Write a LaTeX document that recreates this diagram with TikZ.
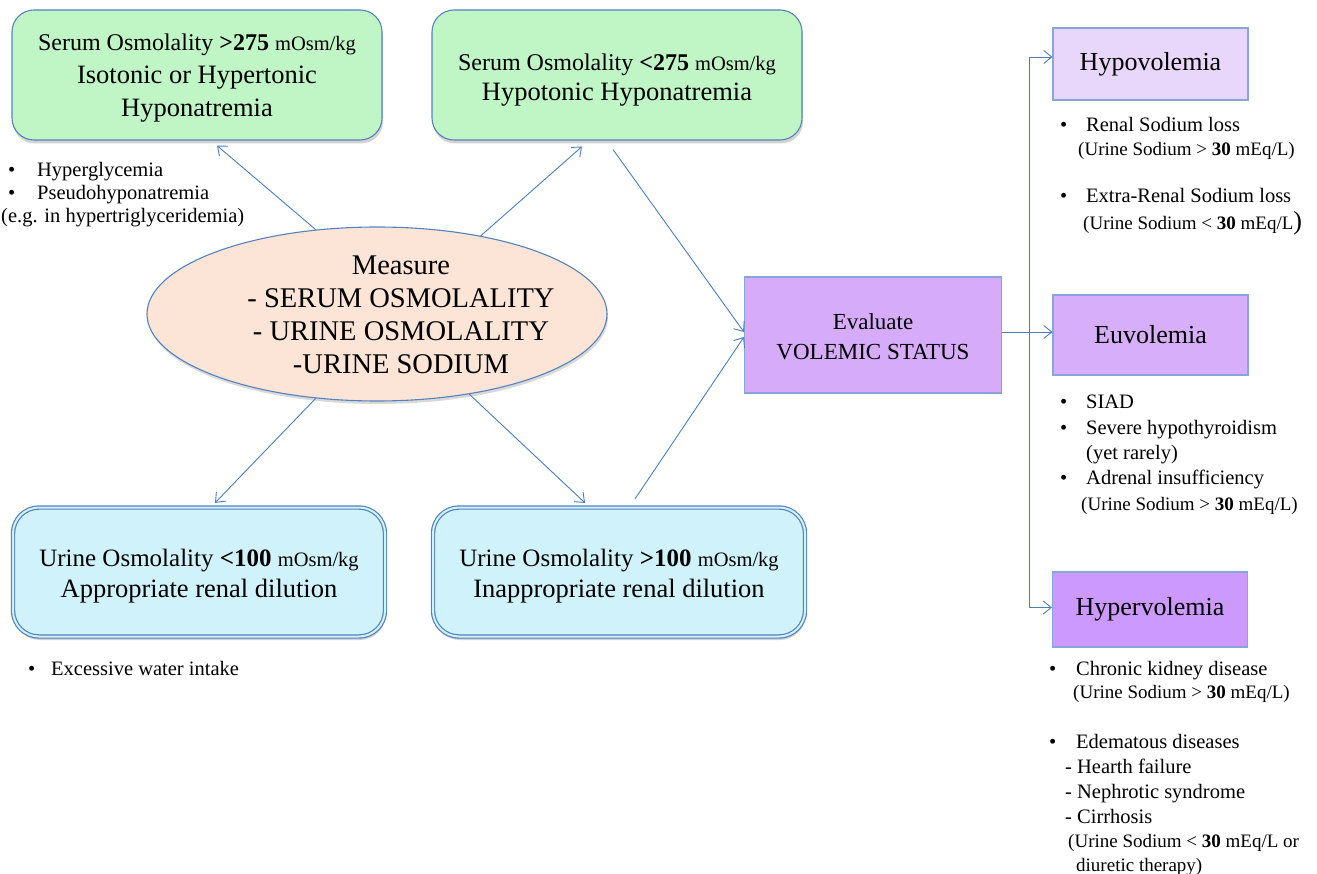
\documentclass[tikz,border=0pt]{standalone}
\usepackage{fontspec}
\setmainfont{Liberation Serif}
\usetikzlibrary{shapes.geometric,arrows.meta,shadows}
\definecolor{lineblue}{RGB}{74,126,190}
\definecolor{boxline}{RGB}{84,130,190}
\definecolor{greenfill}{RGB}{192,245,198}
\definecolor{bluefill}{RGB}{208,242,250}
\definecolor{ellfill}{RGB}{252,229,214}
\definecolor{evalfill}{RGB}{214,172,250}
\definecolor{hypofill}{RGB}{233,214,251}
\definecolor{euvofill}{RGB}{214,174,250}
\definecolor{hyperfill}{RGB}{204,153,255}
\definecolor{pline}{RGB}{135,165,218}
\newcommand\fntBig{\fontsize{26.5}{33}\selectfont}
\newcommand\fntBigB{\fontsize{26.5}{30.5}\selectfont}
\newcommand\fntSer{\fontsize{24}{31}\selectfont}
\newcommand\fntUri{\fontsize{25}{31}\selectfont}
\newcommand\fntUnit{\fontsize{20.5}{31}\selectfont}
\newcommand\fntTxt{\fontsize{20.5}{24}\selectfont}
\newcommand\fntPar{\fontsize{19}{22}\selectfont}
\newcommand\bul[1]{\makebox[#1][l]{•}}
\begin{document}
\begin{tikzpicture}[x=1pt,y=-1pt,
  greenbox/.style={draw=boxline, fill=greenfill, line width=1.1pt, rounded corners=22pt,
    minimum width=370pt, minimum height=130pt,
    drop shadow={opacity=0.35, shadow xshift=1pt, shadow yshift=-3.5pt}},
  bluebox/.style={draw=boxline, double=bluefill, double distance=2pt, line width=1.2pt,
    fill=bluefill, rounded corners=26pt, minimum width=372pt, minimum height=129pt,
    drop shadow={opacity=0.35, shadow xshift=1pt, shadow yshift=-3.5pt}},
  pbox/.style={draw=pline, line width=1.1pt, minimum width=195pt, font=\fontsize{26}{30}\selectfont},
  boxtxt/.style={align=center, inner sep=0pt, font=\fntBigB},
  bl/.style={anchor=base west, inner sep=0pt, font=\fntTxt},
  pl/.style={anchor=base west, inner sep=0pt, font=\fntPar},
  arr/.style={draw=lineblue, line width=0.9pt, -{Straight Barb[length=8pt,width=13pt]}}
]
\useasboundingbox (0,0) rectangle (1317,874);

% top boxes
\node[greenbox] (sa) at (197,75) {};
\node[boxtxt, font=\fntBig] (satxt) at (197,78) {{\fntSer Serum Osmolality \textbf{>275} {\fntUnit mOsm/kg}}\\Isotonic or Hypertonic\\Hyponatremia};
\node[greenbox] (sb) at (617,75) {};
\node[boxtxt] (sbtxt) at (617,80) {{\fntSer Serum Osmolality \textbf{<275} {\fntUnit mOsm/kg}}\\Hypotonic Hyponatremia};

% ellipse
\node[ellipse, draw=boxline, fill=ellfill, line width=1.1pt, minimum width=460pt, minimum height=174pt,
  drop shadow={opacity=0.3, shadow xshift=1pt, shadow yshift=-3pt}] (meas) at (377,314) {};
\node[align=center, inner sep=0pt, font=\fontsize{28.5}{33}\selectfont] (meastxt) at (401,315) {Measure\\- SERUM OSMOLALITY\\- URINE OSMOLALITY\\-URINE SODIUM};

% bottom boxes
\node[bluebox] (uc) at (199,572) {};
\node[boxtxt] (uctxt) at (199,576) {{\fntUri Urine Osmolality \textbf{<100} {\fntUnit mOsm/kg}}\\Appropriate renal dilution};
\node[bluebox] (ud) at (619,572) {};
\node[boxtxt] (udtxt) at (619,576) {{\fntUri Urine Osmolality \textbf{>100} {\fntUnit mOsm/kg}}\\Inappropriate renal dilution};

% evaluate
\node[draw=pline, fill=evalfill, line width=1.1pt, minimum width=257pt, minimum height=116pt] (ev) at (873,335) {};
\node[align=center, inner sep=0pt, font=\fontsize{23}{30}\selectfont] (evtxt) at (873,337) {Evaluate\\VOLEMIC STATUS};

% volemia boxes
\node[pbox, fill=hypofill, minimum height=72pt] (hypo) at (1150.5,64) {Hypovolemia};
\node[pbox, fill=euvofill, minimum height=80pt] (euvo) at (1150.5,335) {Euvolemia};
\node[pbox, fill=hyperfill, minimum height=75pt] (hyper) at (1150,609.5) {Hypervolemia};

% connectors
\draw[arr] (meas.126) -- ([xshift=20pt,yshift=-5pt]sa.south);
\draw[arr] (meas.37) -- ([xshift=-35pt,yshift=-6pt]sb.south);
\draw[arr] ([xshift=-4pt,yshift=-9pt]sb.south) -- ([yshift=3pt]ev.west);
\draw[arr] (meas.-126) -- ([xshift=16pt,yshift=4pt]uc.north);
\draw[arr] (meas.-41) -- ([xshift=-34pt,yshift=4pt]ud.north);
\draw[arr] ([xshift=16pt,yshift=8pt]ud.north) -- ([yshift=-2pt]ev.west);
\coordinate (jt) at (1029,332);
\draw[arr] ([yshift=3pt]ev.east) -- ([yshift=3pt]euvo.west);
\draw[arr] (jt) |- ([yshift=7pt]hypo.west);
\draw[arr] (jt) |- ([yshift=2pt]hyper.west);

% left texts
\node[bl] (t1) at (8,177) {\bul{29pt}Hyperglycemia};
\node[bl] (t2) at (8,200) {\bul{29pt}Pseudohyponatremia};
\node[bl] (t3) at (1,223) {(e.g. in hypertriglyceridemia)};
\node[bl] (t4) at (28,675) {\bul{23pt}Excessive water intake};

% hypovolemia texts
\node[bl] (t5) at (1060,132) {\bul{26pt}Renal Sodium loss};
\node[pl] (t6) at (1078,156) {(Urine Sodium > \textbf{30} mEq/L)};
\node[bl] (t7) at (1060,203) {\bul{26pt}Extra-Renal Sodium loss};
\node[pl] (t8) at (1083,230) {(Urine Sodium < \textbf{30} mEq/L{\fontsize{26}{26}\selectfont)}};

% euvolemia texts
\node[bl] (t9) at (1060,408) {\bul{26pt}SIAD};
\node[bl] (t10) at (1060,434) {\bul{26pt}Severe hypothyroidism};
\node[bl] (t11) at (1086,459) {(yet rarely)};
\node[bl] (t12) at (1060,484) {\bul{26pt}Adrenal insufficiency};
\node[pl] (t13) at (1081,510) {(Urine Sodium > \textbf{30} mEq/L)};

% hypervolemia texts
\node[bl] (t14) at (1049,675) {\bul{27pt}Chronic kidney disease};
\node[pl] (t15) at (1073,698) {(Urine Sodium > \textbf{30} mEq/L)};
\node[bl] (t16) at (1049,748) {\bul{27pt}Edematous diseases};
\node[bl] (t17) at (1065,773) {- Hearth failure};
\node[bl] (t18) at (1065,798) {- Nephrotic syndrome};
\node[bl] (t19) at (1065,823) {- Cirrhosis};
\node[pl] (t20) at (1068,847) {(Urine Sodium < \textbf{30} mEq/L or};
\node[pl] (t21) at (1076,871) {diuretic therapy)};
\end{tikzpicture}
\end{document}
